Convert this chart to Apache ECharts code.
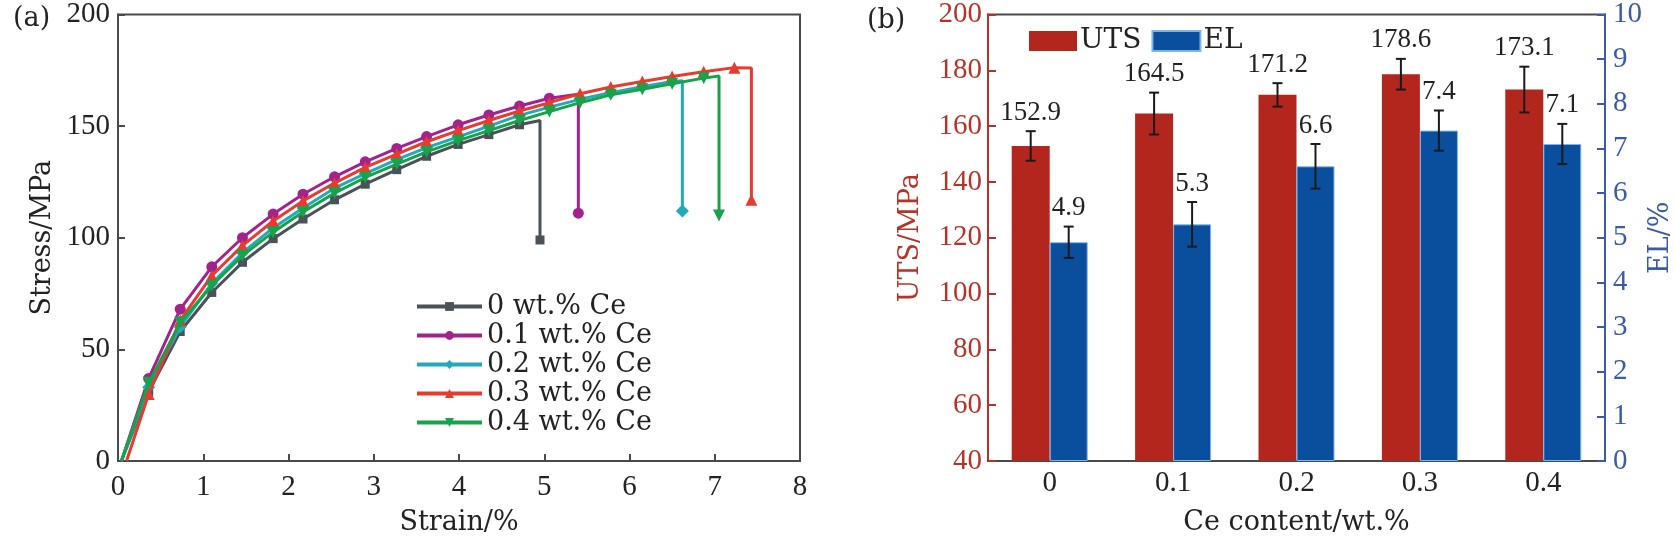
<!DOCTYPE html>
<html>
<head>
<meta charset="utf-8">
<script src="https://cdn.jsdelivr.net/npm/echarts@6/dist/echarts.min.js"></script>
<style>html,body{margin:0;background:#fff}#chart{width:1675px;height:541px}</style>
</head>
<body>
<div id="chart"></div>
<script>
// (a) stress-strain curves
const seriesNames = ['0 wt.% Ce', '0.1 wt.% Ce', '0.2 wt.% Ce', '0.3 wt.% Ce', '0.4 wt.% Ce'];
const strainPts = [0.36, 0.73, 1.10, 1.46, 1.82, 2.17, 2.54, 2.90, 3.27, 3.62, 3.99, 4.35, 4.71, 5.06, 5.42, 5.78, 6.15, 6.50, 6.87, 7.23];
const stress0 = [31, 58, 75.5, 89, 99.6, 108.4, 117, 124, 130.5, 136.5, 141.8, 146.2, 150.6];
const stress1 = [37, 68, 87, 100, 110.6, 119.5, 127.3, 134, 140, 145.3, 150.6, 155, 159, 162.5];
const stress2 = [33, 60, 79.6, 93.3, 104.4, 113.3, 122.2, 128.7, 135, 140.4, 145.2, 150, 154.8, 158.5, 162, 165, 167.6, 170];
const stress3 = [30, 63, 83, 96.5, 107.5, 116.5, 124.5, 131.5, 137.5, 143, 148, 152.5, 156.8, 160.5, 164.5, 167.5, 170, 172.2, 174.4, 176.2];
const stress4 = [35, 62, 78.5, 92, 102.5, 111.5, 120, 127, 133, 138.5, 143.5, 148, 152.5, 156.5, 160.5, 164, 166.5, 169, 171.5];
const startStrain = [0.04, 0.04, 0.04, 0.10, 0.04];
const fracStrain = [4.95, 5.40, 6.62, 7.43, 7.05];
const fracPeak = [152.5, 164.3, 170.3, 176, 172.5];
const fracEnd = [99, 111, 112, 117, 110];

// (b) UTS / EL bars
const categories = ['0', '0.1', '0.2', '0.3', '0.4'];
const uts = [152.9, 164.5, 171.2, 178.6, 173.1];
const utsErr = [5.3, 7.5, 4.2, 5.5, 8.2];
const el = [4.9, 5.3, 6.6, 7.4, 7.1];
const elErr = [0.35, 0.5, 0.5, 0.45, 0.45];

const stressSets = [stress0, stress1, stress2, stress3, stress4];
const lineColors = ['#4b5257', '#a3238e', '#22aab9', '#e63b2e', '#16a34a'];
const symbols = ['rect', 'circle', 'diamond', 'triangle', 'triangle'];
const symSizes = [9, 11, 13, 12, 12];
const rotates = [0, 0, 0, 0, 180];

const numFont = 'Liberation Serif';
const wordFont = 'DejaVu Serif';

function curveData(k) {
  let pts = [{value: [startStrain[k], 0], symbol: 'none'}];
  stressSets[k].forEach(function (s, i) {
    pts.push([strainPts[i], s]);
  });
  pts.push({value: [fracStrain[k], fracPeak[k]], symbol: 'none'});
  pts.push([fracStrain[k], fracEnd[k]]);
  return pts;
}

let lineSeries = seriesNames.map(function (name, k) {
  return {
    name: name,
    type: 'line',
    xAxisIndex: 0,
    yAxisIndex: 0,
    data: curveData(k),
    symbol: symbols[k],
    symbolRotate: rotates[k],
    symbolSize: symSizes[k],
    showAllSymbol: true,
    color: lineColors[k],
    lineStyle: {width: 3, color: lineColors[k]},
    itemStyle: {color: lineColors[k]},
    z: 3 + k
  };
});

function errRender(offset) {
  return function (params, api) {
    let i = api.value(0);
    let lo = api.coord([i, api.value(1)]);
    let hi = api.coord([i, api.value(2)]);
    let x = lo[0] + offset;
    let st = {stroke: '#1a1a1a', lineWidth: 2};
    return {
      type: 'group',
      children: [
        {type: 'line', shape: {x1: x, y1: lo[1], x2: x, y2: hi[1]}, style: st},
        {type: 'line', shape: {x1: x - 5, y1: hi[1], x2: x + 5, y2: hi[1]}, style: st},
        {type: 'line', shape: {x1: x - 5, y1: lo[1], x2: x + 5, y2: lo[1]}, style: st},
        {type: 'text', x: x, y: hi[1] - 5, style: {
          text: api.value(3).toFixed(1), align: 'center', verticalAlign: 'bottom',
          font: '27px "' + numFont + '"', fill: '#222'
        }}
      ]
    };
  };
}

let option = {
  backgroundColor: '#fff',
  animation: false,
  title: [
    {text: '(a)', left: 8, top: 0, textStyle: {fontFamily: wordFont, fontSize: 27, fontWeight: 'normal', color: '#222'}},
    {text: '(b)', left: 862, top: 2, textStyle: {fontFamily: wordFont, fontSize: 27, fontWeight: 'normal', color: '#222'}}
  ],
  legend: [
    {
      data: seriesNames,
      orient: 'vertical',
      left: 410,
      top: 288,
      itemWidth: 65,
      itemHeight: 11,
      itemGap: 2,
      lineStyle: {width: 4},
      textStyle: {fontFamily: wordFont, fontSize: 27, lineHeight: 27, color: '#222'}
    },
    {
      data: ['UTS', 'EL'],
      icon: 'rect',
      left: 1024,
      top: 22,
      itemWidth: 48,
      itemHeight: 20,
      itemGap: 10,
      textStyle: {fontFamily: wordFont, fontSize: 28, color: '#222', padding: [0, 0, 0, -2]}
    }
  ],
  grid: [
    {left: 118, top: 12, width: 682, height: 450, show: true, borderColor: '#4a4a4a', borderWidth: 2},
    {left: 988, top: 12, width: 620, height: 450, show: true, borderColor: '#4a4a4a', borderWidth: 2}
  ],
  xAxis: [
    {
      type: 'value', gridIndex: 0, min: 0, max: 8, interval: 1,
      name: 'Strain/%', nameLocation: 'middle', nameGap: 48,
      nameTextStyle: {fontFamily: wordFont, fontSize: 27, color: '#222'},
      axisLine: {lineStyle: {color: '#4a4a4a', width: 2}},
      axisTick: {inside: true, length: 7, lineStyle: {color: '#4a4a4a', width: 2}},
      axisLabel: {fontFamily: numFont, fontSize: 29, color: '#222', margin: 12},
      splitLine: {show: false}
    },
    {
      type: 'category', gridIndex: 1, data: categories,
      name: 'Ce content/wt.%', nameLocation: 'middle', nameGap: 48,
      nameTextStyle: {fontFamily: wordFont, fontSize: 27, color: '#222'},
      axisLine: {lineStyle: {color: '#4a4a4a', width: 2}},
      axisTick: {inside: true, alignWithLabel: true, length: 5, lineStyle: {color: '#4a4a4a', width: 2}},
      axisLabel: {fontFamily: numFont, fontSize: 29, color: '#222', margin: 8}
    }
  ],
  yAxis: [
    {
      type: 'value', gridIndex: 0, min: 0, max: 200, interval: 50,
      name: 'Stress/MPa', nameLocation: 'middle', nameGap: 62,
      nameTextStyle: {fontFamily: wordFont, fontSize: 27, color: '#222'},
      axisLine: {show: true, lineStyle: {color: '#4a4a4a', width: 2}},
      axisTick: {show: true, inside: true, length: 7, lineStyle: {color: '#4a4a4a', width: 2}},
      axisLabel: {fontFamily: numFont, fontSize: 29, color: '#222', margin: 8},
      splitLine: {show: false}
    },
    {
      type: 'value', gridIndex: 1, min: 40, max: 200, interval: 20, position: 'left',
      name: 'UTS/MPa', nameLocation: 'middle', nameGap: 64,
      nameTextStyle: {fontFamily: wordFont, fontSize: 27, color: '#b5342a'},
      axisLine: {show: true, lineStyle: {color: '#b5342a', width: 2}},
      axisTick: {show: true, inside: true, length: 8, lineStyle: {color: '#b5342a', width: 2}},
      axisLabel: {fontFamily: numFont, fontSize: 29, color: '#b5342a', margin: 6},
      splitLine: {show: false}
    },
    {
      type: 'value', gridIndex: 1, min: 0, max: 10, interval: 1, position: 'right',
      name: 'EL/%', nameLocation: 'middle', nameGap: 42,
      nameTextStyle: {fontFamily: wordFont, fontSize: 27, color: '#3b5ba5'},
      axisLine: {show: true, lineStyle: {color: '#3b5ba5', width: 2}},
      axisTick: {show: true, inside: true, length: 8, lineStyle: {color: '#3b5ba5', width: 2}},
      axisLabel: {fontFamily: numFont, fontSize: 29, color: '#3b5ba5', margin: 8},
      splitLine: {show: false}
    }
  ],
  series: lineSeries.concat([
    {
      name: 'UTS', type: 'bar', xAxisIndex: 1, yAxisIndex: 1,
      data: uts, barWidth: 38, barGap: '0%', color: '#b3261e',
      itemStyle: {color: '#b3261e'}
    },
    {
      name: 'EL', type: 'bar', xAxisIndex: 1, yAxisIndex: 2,
      data: el, barWidth: 38, barGap: '0%', color: '#0a4f9e',
      itemStyle: {color: '#0a4f9e', borderColor: '#7fb3e6', borderWidth: 1}
    },
    {
      type: 'custom', xAxisIndex: 1, yAxisIndex: 1, z: 10,
      renderItem: errRender(-19),
      data: categories.map(function (c, i) { return [i, uts[i] - utsErr[i], uts[i] + utsErr[i], uts[i]]; })
    },
    {
      type: 'custom', xAxisIndex: 1, yAxisIndex: 2, z: 10,
      renderItem: errRender(19),
      data: categories.map(function (c, i) { return [i, el[i] - elErr[i], el[i] + elErr[i], el[i]]; })
    }
  ])
};

let myChart = echarts.init(document.getElementById('chart'));
myChart.setOption(option);
window.addEventListener('resize', function () {
  myChart.resize();
}, false);
</script>
</body>
</html>
